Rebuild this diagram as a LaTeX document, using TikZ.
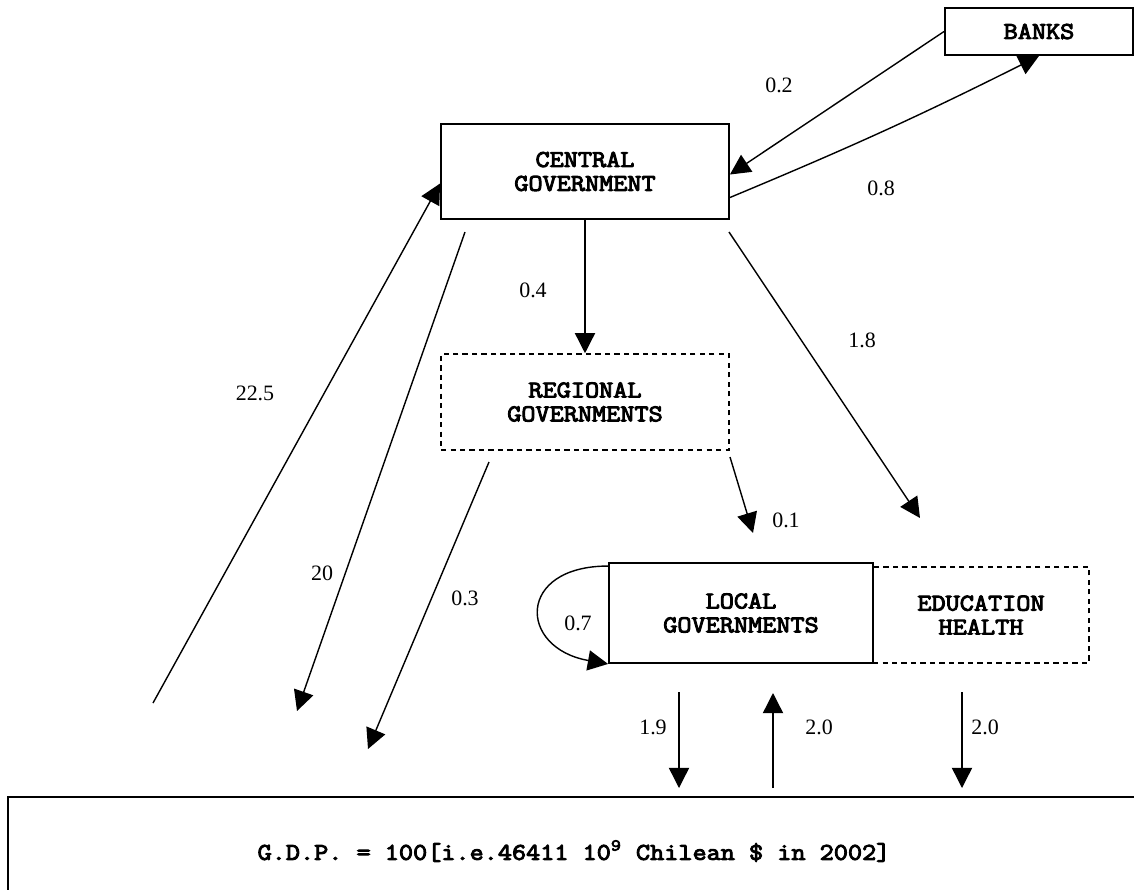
\documentclass[tikz,border=0pt]{standalone}
\usepackage{fontspec}
\setmainfont{Liberation Serif}
\newfontfamily\govfont{Latin Modern Mono}[FakeStretch=1.14, FakeBold=4]
\usepackage{tikz}
\usetikzlibrary{calc,arrows.meta}
\tikzset{>={Triangle[length=11.5pt,width=11.5pt]}}

\begin{document}
\begin{tikzpicture}[x=0.02cm,y=-0.02cm]
          \tikzstyle{gbox} = [draw=black, line width=1.1pt, rectangle, inner sep=2pt, align=center, font=\govfont\fontsize{13.7}{13.6}\selectfont]
          \tikzstyle{dbox} = [gbox, line width=0.9pt, dash pattern=on 3pt off 2.4pt]
          \tikzstyle{flow} = [->, line width=0.8pt]
          \tikzstyle{num} = [inner sep=0pt, font=\fontsize{12.5}{14}\selectfont]

          \useasboundingbox (0,0) rectangle (1134,890);

          \node[gbox, minimum width=3.76cm, minimum height=0.94cm] (banks) at (1039,31.5) {BANKS};
          \node[gbox, minimum width=5.76cm, minimum height=1.9cm] (cg) at (585,171.5) {CENTRAL\\GOVERNMENT};
          \node[dbox, minimum width=5.76cm, minimum height=1.92cm] (reg) at (585,402) {REGIONAL\\GOVERNMENTS};
          \node[dbox, minimum width=4.32cm, minimum height=1.92cm] (edu) at (981,615) {EDUCATION\\HEALTH};
          \node[gbox, minimum width=5.28cm, minimum height=2cm] (local) at (741,613) {LOCAL\\GOVERNMENTS};
          \node[gbox, minimum width=22.64cm, minimum height=2.16cm] (gdp) at (574,851) {G.D.P. = 100[i.e.46411 10\textsuperscript{9} Chilean \$ in 2002]};

          % free ends of the flows
          \coordinate (out18) at (729,232);
          \coordinate (in18) at (920,518);
          \coordinate (out01) at (730,457);
          \coordinate (in01) at (753,533);
          \coordinate (out225) at (153,703);
          \coordinate (out20) at (465,232);
          \coordinate (in20) at (297,711);
          \coordinate (out03) at (489,462);
          \coordinate (in03) at (368,749);
          \coordinate (out19) at (679,692);
          \coordinate (in19) at (679,788);
          \coordinate (out20b) at (773,788);
          \coordinate (in20b) at (773,693);
          \coordinate (out20c) at (962,692);
          \coordinate (in20c) at (962,788);

          \draw[flow] (banks.west) -- ($(cg.east)+(0,3)$);
          \draw[flow] ($(cg.east)+(0,26)$) to[bend right=2] (banks.south);
          \draw[flow] (cg.south) -- (reg.north);
          \draw[flow] (out18) -- (in18);
          \draw[flow] (out01) -- (in01);
          \draw[flow] ($(local.north west)+(0,4)$) to[out=180, in=170, looseness=2.4] (local.south west);
          \draw[flow] (out225) -- ($(cg.west)+(0,12)$);
          \draw[flow] (out20) -- (in20);
          \draw[flow] (out03) -- (in03);
          \draw[flow] (out19) -- (in19);
          \draw[flow] (out20b) -- (in20b);
          \draw[flow] (out20c) -- (in20c);

          \node[num] (n02) at (779,85) {0.2};
          \node[num] (n08) at (881,188) {0.8};
          \node[num] (n04) at (533,290) {0.4};
          \node[num] (n18) at (862,340) {1.8};
          \node[num] (n225) at (255,393) {22.5};
          \node[num] (n20) at (322,573) {20};
          \node[num] (n03) at (465,598) {0.3};
          \node[num] (n01) at (786,520) {0.1};
          \node[num] (n07) at (578,623) {0.7};
          \node[num] (n19) at (653,727) {1.9};
          \node[num] (n20b) at (819,727) {2.0};
          \node[num] (n20c) at (985,727) {2.0};
        \end{tikzpicture}
\end{document}
